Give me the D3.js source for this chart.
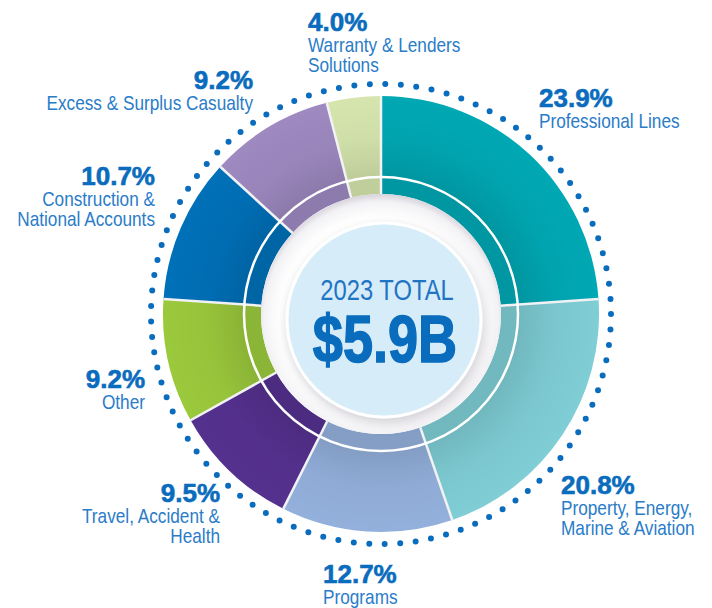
<!DOCTYPE html>
<html>
<head>
    <style>
        body { margin: 0; background: #fff; }
        .pct { font: bold 26px "Liberation Sans", Arial, sans-serif; fill: #0a6cbd; stroke: #0a6cbd; stroke-width: 0.6; }
        .lbl { font: 21px "Liberation Sans", Arial, sans-serif; fill: #2a7cc8; }
        .total { font: 29px "Liberation Sans", Arial, sans-serif; fill: #1f74c4; text-anchor: middle; }
        .amount { font: bold 66px "Liberation Sans", Arial, sans-serif; fill: #0a6cbd; stroke: #0a6cbd; stroke-width: 1.5; text-anchor: middle; }
    </style>
    <script src="https://d3js.org/d3.v7.min.js"></script>
</head>
<body>
    <svg width="712" height="608"></svg>
    <script>

        // chart data
        let categories = ["Professional Lines", "Property, Energy, Marine & Aviation", "Programs",
            "Travel, Accident & Health", "Other", "Construction & National Accounts",
            "Excess & Surplus Casualty", "Warranty & Lenders Solutions"];
        let shares = [23.9, 20.8, 12.7, 9.5, 9.2, 10.7, 9.2, 4.0];
        let labelLines = [["Professional Lines"], ["Property, Energy,", "Marine & Aviation"], ["Programs"],
            ["Travel, Accident &", "Health"], ["Other"], ["Construction &", "National Accounts"],
            ["Excess & Surplus Casualty"], ["Warranty & Lenders", "Solutions"]];
        let colors = ["#00a8b4", "#7fcdd5", "#93b0dc", "#55318f", "#9bc93c", "#0070b8", "#9e89c0", "#d5e5ad"];
        let totalTitle = "2023 TOTAL";
        let totalValue = "$5.9B";

        // label placement: [anchor, x, baseline of percent]
        let labelPos = [["start", 539, 107], ["start", 561, 494], ["start", 323, 583], ["end", 220, 502],
            ["end", 145, 388], ["end", 155, 185], ["end", 253, 89], ["start", 308, 31]];

        let narrow = 0.82; // no condensed face installed, squeeze the regular one

        let svg = d3.select("svg");
        let cx = 381, cy = 314;
        let rOuter = 218, rBand = 137, rInner = 120, rDots = 230;

        let defs = svg.append("defs");

        let shade = defs.append("radialGradient")
            .attr("id", "shade")
            .attr("gradientUnits", "userSpaceOnUse")
            .attr("cx", 0).attr("cy", 0).attr("r", rOuter);
        shade.append("stop").attr("offset", rBand / rOuter).attr("stop-color", "#000").attr("stop-opacity", 0.11);
        shade.append("stop").attr("offset", 0.8).attr("stop-color", "#000").attr("stop-opacity", 0.03);
        shade.append("stop").attr("offset", 1).attr("stop-color", "#000").attr("stop-opacity", 0);

        let hole = defs.append("radialGradient")
            .attr("id", "hole")
            .attr("gradientUnits", "userSpaceOnUse")
            .attr("cx", 0).attr("cy", 5).attr("r", rInner + 5);
        hole.append("stop").attr("offset", 0.82).attr("stop-color", "#fff");
        hole.append("stop").attr("offset", 0.94).attr("stop-color", "#f2f1f4");
        hole.append("stop").attr("offset", 1).attr("stop-color", "#d6d3db");

        let drop = defs.append("filter").attr("id", "drop")
            .attr("x", "-30%").attr("y", "-30%").attr("width", "160%").attr("height", "160%");
        drop.append("feDropShadow").attr("dx", 2).attr("dy", 5).attr("stdDeviation", 6)
            .attr("flood-color", "#8a8494").attr("flood-opacity", 0.4);

        let g = svg.append("g").attr("transform", "translate(" + cx + "," + cy + ")");

        let pie = d3.pie().sort(null).value(d => d);
        let slices = pie(shares);

        let arcMain = d3.arc().innerRadius(rBand).outerRadius(rOuter);
        let arcBand = d3.arc().innerRadius(rInner).outerRadius(rBand);

        // dotted ring
        g.append("circle")
            .attr("r", rDots)
            .attr("fill", "none")
            .attr("stroke", "#0a6cbd")
            .attr("stroke-width", 6)
            .attr("stroke-linecap", "round")
            .attr("stroke-dasharray", "0," + (2 * Math.PI * rDots / 93));

        g.selectAll(".main")
            .data(slices)
            .enter().append("path")
            .attr("class", "main")
            .attr("d", arcMain)
            .attr("fill", (d, i) => colors[i]);

        g.selectAll(".band")
            .data(slices)
            .enter().append("path")
            .attr("class", "band")
            .attr("d", arcBand)
            .attr("fill", (d, i) => d3.color(colors[i]).darker(0.3));

        // soft shading toward the middle, outer ring only
        g.append("path")
            .attr("d", d3.arc().innerRadius(rBand).outerRadius(rOuter)({startAngle: 0, endAngle: 2 * Math.PI}))
            .attr("fill", "url(#shade)");

        // separators
        g.selectAll(".sepline")
            .data(slices)
            .enter().append("line")
            .attr("x1", d => rInner * Math.sin(d.startAngle))
            .attr("y1", d => -rInner * Math.cos(d.startAngle))
            .attr("x2", d => rOuter * Math.sin(d.startAngle))
            .attr("y2", d => -rOuter * Math.cos(d.startAngle))
            .attr("stroke", "#f2f2f4")
            .attr("stroke-width", 2.5);

        g.append("circle")
            .attr("r", rBand)
            .attr("fill", "none")
            .attr("stroke", "#fff")
            .attr("stroke-width", 2.5);

        // centre
        g.append("circle").attr("r", rInner).attr("fill", "url(#hole)");

        g.append("circle")
            .attr("cx", 3).attr("cy", 6)
            .attr("r", 97)
            .attr("fill", "#d6ecf8")
            .attr("stroke", "#fff")
            .attr("stroke-width", 3)
            .attr("filter", "url(#drop)");

        svg.append("text").attr("class", "total")
            .attr("transform", "translate(387,300) scale(" + narrow + ",1)")
            .text(totalTitle);

        svg.append("text").attr("class", "amount")
            .attr("transform", "translate(385,362) scale(" + narrow + ",1)")
            .text(totalValue);

        // labels
        let labels = svg.selectAll(".label")
            .data(slices)
            .enter().append("g")
            .attr("class", "label")
            .attr("transform", (d, i) => "translate(" + labelPos[i][1] + "," + labelPos[i][2] + ")");

        labels.append("text")
            .attr("class", "pct")
            .attr("text-anchor", (d, i) => labelPos[i][0])
            .text(d => d3.format(".1f")(d.data) + "%");

        labels.each(function(d, i) {
            d3.select(this).selectAll(".lbl")
                .data(labelLines[i])
                .enter().append("text")
                .attr("class", "lbl")
                .attr("text-anchor", labelPos[i][0])
                .attr("transform", (t, j) => "translate(0," + (20.5 + j * 20) + ") scale(" + narrow + ",1)")
                .text(t => t);
        });
     </script>
</body>
</html>
